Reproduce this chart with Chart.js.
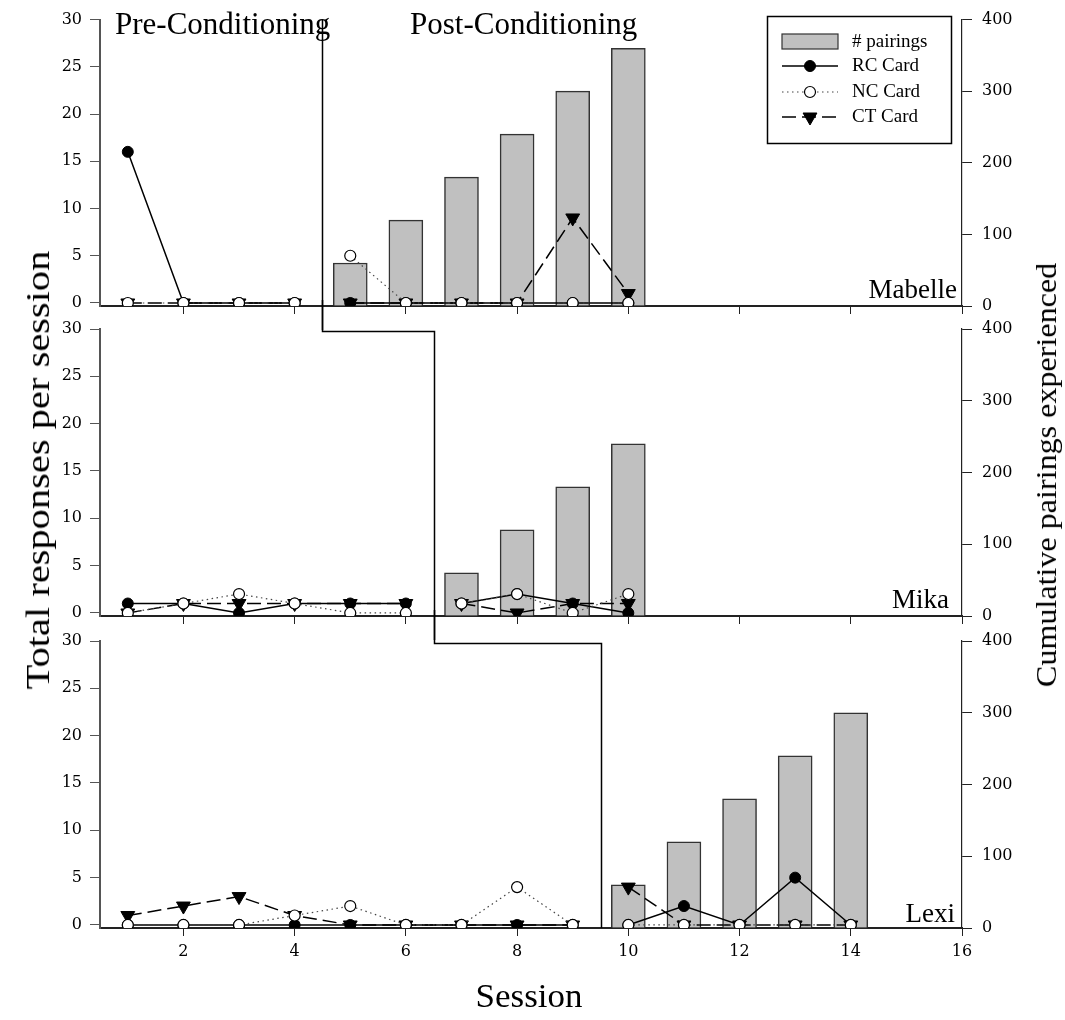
<!DOCTYPE html>
<html>
<head>
<meta charset="utf-8">
<script src="https://cdn.jsdelivr.net/npm/chart.js@4/dist/chart.umd.min.js"></script>
<style>
  body { margin: 0; background: #fff; width: 1065px; height: 1020px; position: relative; overflow: hidden; }
  canvas { position: absolute; left: 0; }
  .t { position: absolute; white-space: nowrap; color: #000; font-family: "Liberation Serif", serif; line-height: 1; }
  #ylab { left: 38px; top: 470px; font-size: 34px; transform: translate(-50%, -50%) rotate(-90deg) scaleX(1.19); }
  #y2lab { left: 1046px; top: 475px; font-size: 30px; transform: translate(-50%, -50%) rotate(-90deg) scaleX(1.07); }
  #xlab { left: 529px; top: 996px; font-size: 33px; transform: translate(-50%, -50%) scaleX(1.06); }
</style>
</head>
<body>
<canvas id="c1" width="1065" height="330" style="top:0px"></canvas>
<canvas id="c2" width="1065" height="340" style="top:300px"></canvas>
<canvas id="c3" width="1065" height="410" style="top:610px"></canvas>
<div class="t" id="ylab">Total responses per session</div>
<div class="t" id="y2lab">Cumulative pairings experienced</div>
<div class="t" id="xlab">Session</div>

<script>
// Mabelle
const mabelleSessions = [1, 2, 3, 4, 5, 6, 7, 8, 9, 10];
const mabelleRC = [16, 0, 0, 0, 0, 0, 0, 0, 0, 0];
const mabelleNC = [0, 0, 0, 0, 5, 0, 0, 0, 0, 0];
const mabelleCT = [0, 0, 0, 0, 0, 0, 0, 0, 9, 1];
const mabellePairings = [null, null, null, null, 60, 120, 180, 240, 300, 360];
const mabellePhase = 4.5;

// Mika
const mikaSessions = [1, 2, 3, 4, 5, 6, 7, 8, 9, 10];
const mikaRC = [1, 1, 0, 1, 1, 1, 1, 2, 1, 0];
const mikaNC = [0, 1, 2, 1, 0, 0, 1, 2, 0, 2];
const mikaCT = [0, 1, 1, 1, 1, 1, 1, 0, 1, 1];
const mikaPairings = [null, null, null, null, null, null, 60, 120, 180, 240];
const mikaPhase = 6.5;

// Lexi
const lexiSessions = [1, 2, 3, 4, 5, 6, 7, 8, 9, 10, 11, 12, 13, 14];
const lexiRC = [0, 0, 0, 0, 0, 0, 0, 0, 0, 0, 2, 0, 5, 0];
const lexiNC = [0, 0, 0, 1, 2, 0, 0, 4, 0, 0, 0, 0, 0, 0];
const lexiCT = [1, 2, 3, 1, 0, 0, 0, 0, 0, 4, 0, 0, 0, 0];
const lexiPairings = [null, null, null, null, null, null, null, null, null, 60, 120, 180, 240, 300];
const lexiPhase = 9.5;

const xTicks = [2, 4, 6, 8, 10, 12, 14, 16];
const leftTicks = [0, 5, 10, 15, 20, 25, 30];
const rightTicks = [0, 100, 200, 300, 400];

const SERIF = '"Liberation Serif", serif';
const TICKFONT = { family: '"DejaVu Serif", serif', size: 16 };

// line points, broken at the phase change
function pts(sessions, vals, phase) {
  const out = [];
  sessions.forEach((s, i) => {
    if (s > phase && (i === 0 || sessions[i - 1] < phase)) out.push({ x: phase, y: null });
    if (vals[i] !== null) out.push({ x: s, y: vals[i] });
  });
  return out;
}
function barPts(sessions, vals) {
  return sessions.map((s, i) => ({ x: s, y: vals[i] })).filter(p => p.y !== null);
}

const panelPlugin = {
  id: 'panel',
  afterDatasetsDraw(chart, args, o) {
    const { ctx, chartArea: a, scales: { x } } = chart;
    ctx.save();
    ctx.strokeStyle = '#000';
    ctx.lineWidth = 1.5;
    const px = Math.round(x.getPixelForValue(o.phase)) + 0.5;
    ctx.beginPath();
    if (o.prevPhase != null) {
      const pp = Math.round(x.getPixelForValue(o.prevPhase)) + 0.5;
      ctx.moveTo(pp, 0);
      ctx.lineTo(pp, a.top + 2.5);
      ctx.lineTo(px, a.top + 2.5);
    } else {
      ctx.moveTo(px, a.top);
    }
    ctx.lineTo(px, o.last ? a.bottom : chart.height);
    ctx.stroke();

    ctx.fillStyle = '#000';
    ctx.font = '27px ' + SERIF;
    ctx.textAlign = 'right';
    ctx.textBaseline = 'alphabetic';
    ctx.fillText(o.name, a.right - o.nameDX, a.bottom - o.nameDY);

    if (o.phaseText) {
      ctx.font = '31px ' + SERIF;
      ctx.textAlign = 'left';
      ctx.fillText('Pre-Conditioning', 115, 34);
      ctx.fillText('Post-Conditioning', 410, 34);
    }
    ctx.restore();
  }
};

const legendPlugin = {
  id: 'boxLegend',
  afterDraw(chart, args, o) {
    if (!o.show) return;
    const ctx = chart.ctx;
    const ds = chart.data.datasets;
    const get = l => ds.find(d => d.label === l);
    ctx.save();
    ctx.fillStyle = '#fff';
    ctx.fillRect(767, 16, 185, 128);
    ctx.strokeStyle = '#000';
    ctx.lineWidth = 1.5;
    ctx.strokeRect(767.5, 16.5, 184, 127);

    const bar = get('# pairings');
    ctx.fillStyle = bar.backgroundColor;
    ctx.fillRect(782, 34, 56, 15);
    ctx.strokeStyle = bar.borderColor;
    ctx.lineWidth = 1.2;
    ctx.strokeRect(782, 34, 56, 15);

    const rows = [['RC Card', 66], ['NC Card', 92], ['CT Card', 117]];
    rows.forEach(([l, y]) => {
      const d = get(l);
      ctx.strokeStyle = d.borderColor;
      ctx.lineWidth = d.borderWidth;
      ctx.setLineDash(d.borderDash || []);
      ctx.beginPath();
      ctx.moveTo(782, y);
      ctx.lineTo(838, y);
      ctx.stroke();
      ctx.setLineDash([]);
      ctx.fillStyle = d.pointBackgroundColor;
      ctx.strokeStyle = d.pointBorderColor;
      ctx.lineWidth = d.pointBorderWidth;
      Chart.helpers.drawPoint(ctx, {
        pointStyle: d.pointStyle, rotation: d.pointRotation || 0,
        radius: d.pointRadius, borderWidth: d.pointBorderWidth
      }, 810, y);
    });

    ctx.fillStyle = '#000';
    ctx.font = '19px ' + SERIF;
    ctx.textAlign = 'left';
    ctx.textBaseline = 'middle';
    ctx.fillText('# pairings', 852, 42);
    rows.forEach(([l, y]) => ctx.fillText(l, 852, y));
    ctx.restore();
  }
};

function makePanel(id, p) {
  const lineBase = { type: 'line', yAxisID: 'y', tension: 0, spanGaps: false, fill: false };
  return new Chart(document.getElementById(id), {
    type: 'line',
    data: {
      datasets: [
        Object.assign({}, lineBase, {
          label: 'NC Card', order: 0, data: pts(p.sessions, p.nc, p.phase),
          borderColor: '#444', borderWidth: 1.2, borderDash: [1.5, 3.5],
          pointStyle: 'circle', pointRadius: 5.5, pointBackgroundColor: '#fff',
          pointBorderColor: '#000', pointBorderWidth: 1.2
        }),
        Object.assign({}, lineBase, {
          label: 'CT Card', order: 1, data: pts(p.sessions, p.ct, p.phase),
          borderColor: '#000', borderWidth: 1.5, borderDash: [14, 6],
          pointStyle: 'triangle', pointRotation: 180, pointRadius: 8,
          pointBackgroundColor: '#000', pointBorderColor: '#000', pointBorderWidth: 1
        }),
        Object.assign({}, lineBase, {
          label: 'RC Card', order: 2, data: pts(p.sessions, p.rc, p.phase),
          borderColor: '#000', borderWidth: 1.5,
          pointStyle: 'circle', pointRadius: 5.5, pointBackgroundColor: '#000',
          pointBorderColor: '#000', pointBorderWidth: 1
        }),
        {
          type: 'bar', label: '# pairings', order: 3, yAxisID: 'y1',
          data: barPts(p.sessions, p.pairs),
          backgroundColor: '#c0c0c0', borderColor: '#333', borderWidth: 1.5,
          barThickness: 34
        }
      ]
    },
    options: {
      responsive: false,
      animation: false,
      devicePixelRatio: 1,
      events: [],
      layout: { padding: { top: p.padTop, left: 0, right: 0, bottom: 0 } },
      plugins: {
        legend: { display: false },
        tooltip: { enabled: false },
        panel: p.panel,
        boxLegend: { show: !!p.legend }
      },
      scales: {
        x: {
          type: 'linear', min: 0.5, max: 16, offset: false,
          afterBuildTicks: s => { s.ticks = xTicks.map(v => ({ value: v })); },
          ticks: { display: p.xLabels, font: TICKFONT, color: '#000', padding: 6 },
          grid: { drawOnChartArea: false, offset: false, tickLength: 8, color: '#222', lineWidth: 1 },
          border: { color: '#222', width: 2 },
          afterFit: s => { s.height = p.xHeight; }
        },
        y: {
          position: 'left', min: -0.32, max: 30,
          afterBuildTicks: s => { s.ticks = leftTicks.map(v => ({ value: v })); },
          ticks: { font: TICKFONT, color: '#000', padding: 8 },
          grid: { drawOnChartArea: false, tickLength: 10, color: '#555', lineWidth: 1 },
          border: { color: '#555', width: 2 },
          afterFit: s => { s.width = 100; }
        },
        y1: {
          position: 'right', min: 0, max: 400,
          afterBuildTicks: s => { s.ticks = rightTicks.map(v => ({ value: v })); },
          ticks: { font: TICKFONT, color: '#000', padding: 10 },
          grid: { drawOnChartArea: false, tickLength: 10, color: '#222', lineWidth: 1 },
          border: { color: '#222', width: 1.2 },
          afterFit: s => { s.width = 103; }
        }
      }
    },
    plugins: [panelPlugin, legendPlugin]
  });
}

makePanel('c1', {
  sessions: mabelleSessions, rc: mabelleRC, nc: mabelleNC, ct: mabelleCT, pairs: mabellePairings,
  phase: mabellePhase, padTop: 19, xHeight: 24, xLabels: false, legend: true,
  panel: { phase: mabellePhase, prevPhase: null, last: false, name: 'Mabelle', nameDX: 5, nameDY: 8, phaseText: true }
});
makePanel('c2', {
  sessions: mikaSessions, rc: mikaRC, nc: mikaNC, ct: mikaCT, pairs: mikaPairings,
  phase: mikaPhase, padTop: 29, xHeight: 24, xLabels: false, legend: false,
  panel: { phase: mikaPhase, prevPhase: mabellePhase, last: false, name: 'Mika', nameDX: 13, nameDY: 8 }
});
makePanel('c3', {
  sessions: lexiSessions, rc: lexiRC, nc: lexiNC, ct: lexiCT, pairs: lexiPairings,
  phase: lexiPhase, padTop: 31, xHeight: 92, xLabels: true, legend: false,
  panel: { phase: lexiPhase, prevPhase: mikaPhase, last: true, name: 'Lexi', nameDX: 7, nameDY: 6 }
});
</script>
</body>
</html>
